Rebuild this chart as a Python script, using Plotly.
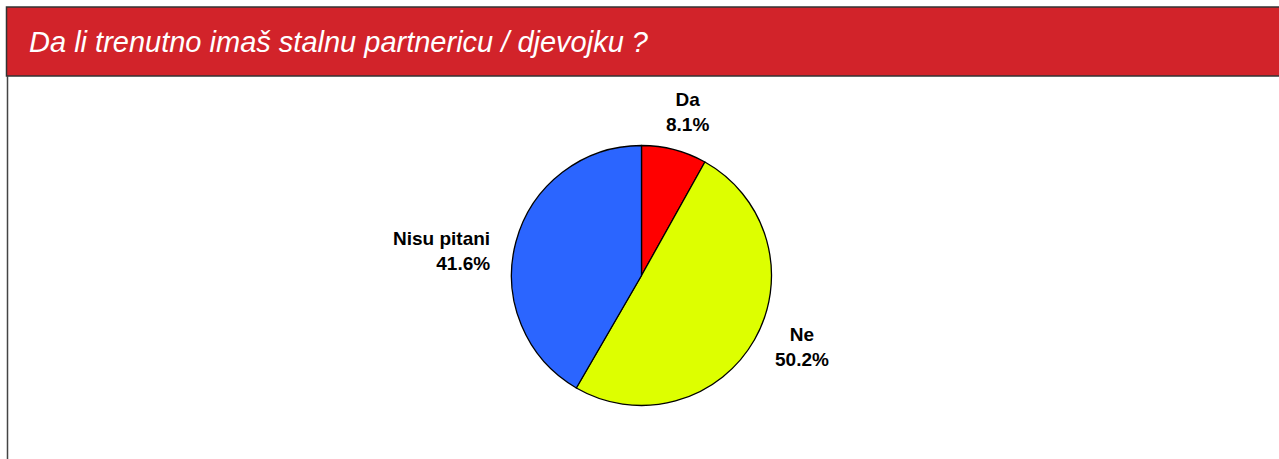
import plotly.graph_objects as go

W, H = 1279, 459

title_text = "Da li trenutno imaš stalnu partnericu / djevojku ?"
labels = ["Da", "Ne", "Nisu pitani"]
values = [8.1, 50.2, 41.6]
colors = ["#FF0000", "#DDFF00", "#2B65FF"]

# label anchor positions in pixels (x, y-middle of block) and alignment
label_pos = [(687, 112, "center"), (802, 347, "center"), (492, 251, "right")]

def px_x(x):
    return x / W

def px_y(y):
    return 1 - y / H

cx, cy, r = 641.5, 275.5, 130

fig = go.Figure()
fig.add_trace(go.Pie(
    labels=labels,
    values=values,
    sort=False,
    direction="clockwise",
    rotation=0,
    marker=dict(colors=colors, line=dict(color="#000000", width=1.3)),
    textinfo="none",
    hoverinfo="label+percent",
    showlegend=False,
    domain=dict(x=[px_x(cx - r), px_x(cx + r)], y=[px_y(cy + r), px_y(cy - r)]),
))

annotations = []
for (lab, val, (x, y, al)) in zip(labels, values, label_pos):
    annotations.append(dict(
        x=px_x(x), y=px_y(y), xref="paper", yref="paper",
        text=f"<b>{lab}</b><br><b>{val:.1f}%</b>",
        showarrow=False, xanchor=al, yanchor="middle", align=al,
        font=dict(family="Liberation Sans, Arial", size=19, color="#000000"),
    ))

annotations.append(dict(
    x=px_x(27), y=px_y(42), xref="paper", yref="paper",
    text=title_text, showarrow=False, xanchor="left", yanchor="middle",
    font=dict(family="Liberation Sans, Arial", size=29, color="#FFFFFF", style="italic"),
))

shapes = [
    dict(type="rect", xref="paper", yref="paper",
         x0=px_x(6.5), x1=px_x(1285), y0=px_y(76), y1=px_y(7),
         fillcolor="#D2232A", line=dict(color="#333333", width=1.5), layer="below"),
    dict(type="line", xref="paper", yref="paper",
         x0=px_x(7.5), x1=px_x(7.5), y0=px_y(76), y1=px_y(470),
         line=dict(color="#444444", width=1.5)),
]

fig.update_layout(
    width=W, height=H,
    margin=dict(l=0, r=0, t=0, b=0),
    paper_bgcolor="#FFFFFF",
    plot_bgcolor="#FFFFFF",
    annotations=annotations,
    shapes=shapes,
)

fig.write_html(
    "out.html",
    config={"displayModeBar": False},
    post_script="document.body.style.margin='0';document.body.style.overflow='hidden';",
)
